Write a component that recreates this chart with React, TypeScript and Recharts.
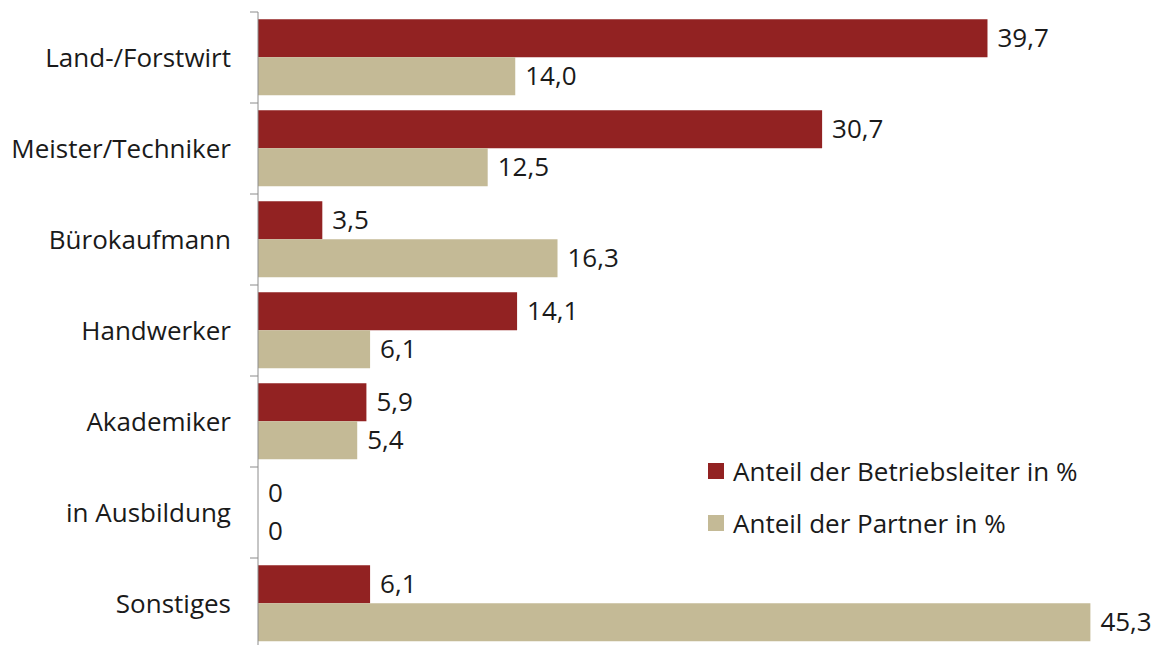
import { BarChart, Bar, XAxis, YAxis, LabelList, Legend } from 'recharts';

const categories = ['Land-/Forstwirt', 'Meister/Techniker', 'Bürokaufmann', 'Handwerker', 'Akademiker', 'in Ausbildung', 'Sonstiges'];
const betriebsleiter = [39.7, 30.7, 3.5, 14.1, 5.9, 0, 6.1];
const partner = [14.0, 12.5, 16.3, 6.1, 5.4, 0, 45.3];

const seriesNames = ['Anteil der Betriebsleiter in %', 'Anteil der Partner in %'];
const colors = ['#922222', '#C4BA96'];

const data = categories.map((name, i) => ({ name, leiter: betriebsleiter[i], partner: partner[i] }));

const FONT = '"Open Sans", sans-serif';
const FS = 26;
const TOP = 12;
const BOTTOM = 11;
const HEIGHT = 660;
const BAND = (HEIGHT - TOP - BOTTOM) / categories.length;

const fmt = (v: any) => (Number(v) === 0 ? '0' : Number(v).toFixed(1).replace('.', ','));

function CategoryTick(props: any) {
  const { x, y, payload, index } = props;
  const axisX = x + 27;
  return (
    <g>
      <line x1={axisX - 8} x2={axisX} y1={y - BAND / 2} y2={y - BAND / 2} stroke="#8c8c8c" />
      {index === categories.length - 1 && (
        <line x1={axisX - 8} x2={axisX} y1={y + BAND / 2} y2={y + BAND / 2} stroke="#8c8c8c" />
      )}
      <text x={x} y={y} dy="0.35em" textAnchor="end" fill="#1a1a1a" fontSize={FS} fontFamily={FONT}>
        {payload.value}
      </text>
    </g>
  );
}

function ValueLabel(props: any) {
  const { x, y, width, height, value } = props;
  return (
    <text x={Number(x) + Number(width) + 10} y={Number(y) + Number(height) / 2} dy="0.35em" fill="#1a1a1a" fontSize={FS} fontFamily={FONT}>
      {fmt(value)}
    </text>
  );
}

function LegendBox() {
  return (
    <div style={{ fontFamily: FONT, fontSize: FS, color: '#1a1a1a', lineHeight: '26px' }}>
      {seriesNames.map((n, i) => (
        <div key={n} style={{ display: 'flex', alignItems: 'center', height: 26, marginBottom: i === 0 ? 26 : 0 }}>
          <span style={{ display: 'inline-block', width: 16, height: 16, background: colors[i], marginRight: 9 }} />
          <span>{n}</span>
        </div>
      ))}
    </div>
  );
}

export default function App() {
  return (
    <div style={{ position: 'absolute', left: 0, top: 0, background: '#fff' }}>
      <BarChart
        width={1154}
        height={HEIGHT}
        data={data}
        layout="vertical"
        margin={{ top: TOP, right: 14, bottom: BOTTOM, left: 0 }}
        barCategoryGap="8%"
        barGap={0}
      >
        <XAxis type="number" domain={[0, 48]} hide />
        <YAxis
          type="category"
          dataKey="name"
          width={258}
          tickLine={false}
          tickSize={0}
          tickMargin={27}
          axisLine={{ stroke: '#8c8c8c' }}
          tick={<CategoryTick />}
          interval={0}
        />
        <Legend
          layout="vertical"
          align="center"
          verticalAlign="middle"
          content={<LegendBox />}
          wrapperStyle={{ left: 708, top: 458, width: 440 }}
        />
        <Bar dataKey="leiter" name={seriesNames[0]} fill={colors[0]} minPointSize={0.01} isAnimationActive={false}>
          <LabelList dataKey="leiter" content={<ValueLabel />} />
        </Bar>
        <Bar dataKey="partner" name={seriesNames[1]} fill={colors[1]} minPointSize={0.01} isAnimationActive={false}>
          <LabelList dataKey="partner" content={<ValueLabel />} />
        </Bar>
      </BarChart>
    </div>
  );
}
